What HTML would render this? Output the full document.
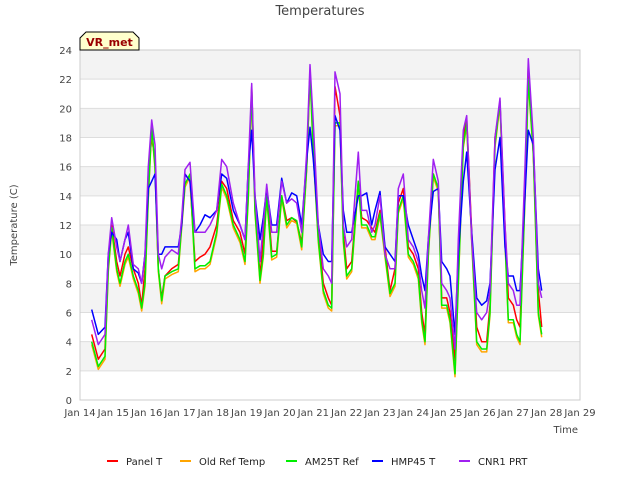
<!DOCTYPE html>
<html><head><meta charset="utf-8"><style>
body{margin:0;background:#fff;font-family:"Liberation Sans","DejaVu Sans",sans-serif}
</style></head><body>
<svg id="chart" width="640" height="480" xmlns="http://www.w3.org/2000/svg" font-family="DejaVu Sans, Liberation Sans, sans-serif">
<rect width="640" height="480" fill="#fff"/>
<g id="bands"></g>
<g id="grid"></g>
<g id="series"></g>
<g id="axes"></g>
<text x="320" y="15" text-anchor="middle" font-size="13" fill="#444">Temperatures</text>
<text transform="translate(17,225) rotate(-90)" text-anchor="middle" font-size="10" fill="#444">Temperature (C)</text>
<text x="578" y="433" text-anchor="end" font-size="10" fill="#444">Time</text>
<g>
<path d="M80,50 L80,38 L86,32 L133,32 L139,38 L139,50 Z" fill="#ffffcc" stroke="#000" stroke-width="1"/>
<text x="109.5" y="46" text-anchor="middle" font-size="11" font-weight="bold" fill="#990000">VR_met</text>
</g>
<g id="legend"></g>
</svg>
<script>
const t=[0.35,0.55,0.75,0.85,0.95,1.1,1.2,1.35,1.45,1.6,1.75,1.85,1.95,2.05,2.15,2.25,2.35,2.45,2.55,2.75,2.95,3.05,3.15,3.3,3.45,3.6,3.75,3.9,4.1,4.25,4.4,4.6,4.8,4.95,5.05,5.15,5.25,5.4,5.5,5.6,5.75,5.9,6.05,6.2,6.35,6.5,6.65,6.8,6.9,7.0,7.15,7.3,7.45,7.55,7.65,7.8,7.9,8.0,8.15,8.35,8.45,8.6,8.75,8.85,9.0,9.15,9.3,9.45,9.55,9.7,9.85,10.0,10.15,10.25,10.35,10.45,10.6,10.75,10.85,11.0,11.1,11.25,11.35,11.5,11.6,11.75,11.9,12.05,12.2,12.3,12.45,12.6,12.75,12.85,13.0,13.1,13.2,13.35,13.45,13.6,13.75,13.85];
const green=[4.0,2.3,3.0,9,11.8,9,8,9.5,10,8.5,7.5,6.3,8,14,18.8,16,9,6.8,8.5,8.8,9,12,14.8,15.5,9,9.2,9.2,9.5,11.5,14.8,14,12,11,9.5,14,21.3,13,8.2,10,14,9.8,10,14,12,12.5,12.3,10.5,16,22.5,17,11,7.5,6.5,6.3,19,19,11,8.5,9,15,12,12,11.2,11.2,12.8,10,7.3,8,13,14,10,9.5,8.5,5.5,4,10,15.5,14.5,6.5,6.5,5.5,1.8,8,17.5,19,11,4,3.5,3.5,6,17.5,20.5,11,5.5,5.5,4.5,4,14,22,17,6,4.5];
const orange=[3.8,2.1,2.8,8.8,11.6,8.8,7.8,9.3,9.8,8.3,7.3,6.1,7.8,13.8,18.6,15.8,8.8,6.6,8.3,8.6,8.8,11.8,14.6,15.3,8.8,9,9,9.3,11.3,14.6,13.8,11.8,10.8,9.3,13.8,21.1,12.8,8,9.8,13.8,9.6,9.8,13.8,11.8,12.3,12.1,10.3,15.8,22.3,16.8,10.8,7.3,6.3,6.1,18.8,18.8,10.8,8.3,8.8,14.8,11.8,11.8,11,11,12.6,9.8,7.1,7.8,12.8,13.8,9.8,9.3,8.3,5.3,3.8,9.8,15.3,14.3,6.3,6.3,5.3,1.6,7.8,17.3,18.8,10.8,3.8,3.3,3.3,5.8,17.3,20.3,10.8,5.3,5.3,4.3,3.8,13.8,21.8,16.8,5.8,4.3];
const red=[4.5,2.8,3.5,9.5,12,9.5,8.5,10,10.5,9,8,6.5,9,15.5,18,16.5,9,7,8.5,9,9.3,12,15.5,15,9.5,9.8,10,10.5,12,15,14.5,12.3,11.5,10,14.5,21.5,13.5,8.5,11,14.5,10.2,10.2,14,12.3,12.5,12.2,10.8,16,22.5,18,11.5,8,7,6.5,21.5,19.5,11.5,9,9.5,15,12.5,12.3,11.8,11.5,13,10.5,7.5,9,13.5,14.5,10.5,10,9,6,4.5,10.5,15.5,14.5,7,7,6,2.7,9,18,19.3,11.5,5,4,4,6.5,18,20.3,12,7,6.5,5.5,5,15,23,17,7.5,5];
const blue=[6.2,4.5,5,10,11.5,11,9.5,11,11.5,9,8.7,8,10,14.5,15,15.5,10,10,10.5,10.5,10.5,12,15.5,15,11.5,12,12.7,12.5,13,15.5,15.2,13,12,11,16,18.5,14,11,12.5,14.5,12,12,15.2,13.5,14.2,14,12,16.5,18.7,16.5,12,10,9.5,9.5,19.5,18.5,13,11.5,11.5,14,14,14.2,12,13,14.3,10.5,10,9.5,14,14,12,11,10,8.5,7.5,11,14.3,14.5,9.5,9,8.5,4.5,10,15,17,11.5,7,6.5,6.8,8,15.8,18,10.5,8.5,8.5,7.5,7.5,14,18.5,17.5,9,7.5];
const purple=[5.5,3.8,4.5,10,12.5,10.5,9.5,11,12,9.3,9,8,10,16,19.2,17.5,10,9,9.8,10.3,10,12.5,15.8,16.3,11.5,11.5,11.5,12,13,16.5,16,13.5,12,11,16,21.7,14,9.5,12,14.8,11.5,11.5,15,13.5,13.8,13.5,11.5,17,23,19,12,9,8.5,8,22.5,21,12,10.5,11,17,13,13,11.5,12,14,10,9,9,14.5,15.5,11,10.5,9.5,7.5,6.3,11,16.5,15,8,7.5,7,3.5,11,18.5,19.5,11,6,5.5,6,7.5,18,20.7,12,8,7.5,6.5,6.5,16,23.4,18,8,7];
const yTicks=[0,2,4,6,8,10,12,14,16,18,20,22,24];
const xTickLabels=["Jan 14","Jan 15","Jan 16","Jan 17","Jan 18","Jan 19","Jan 20","Jan 21","Jan 22","Jan 23","Jan 24","Jan 25","Jan 26","Jan 27","Jan 28","Jan 29"];
const seriesNames=["Panel T","Old Ref Temp","AM25T Ref","HMP45 T","CNR1 PRT"];
const seriesColors=["#ff0000","#ffa500","#00ee00","#0000ff","#a020f0"];
const seriesData=[red,orange,green,blue,purple];

const X0=80,X1=580,Y0=400,Y1=50;
const xs=d=>X0+d*(X1-X0)/15;
const ys=v=>Y0-v*(Y0-Y1)/24;
const NS="http://www.w3.org/2000/svg";
function mk(tag,parent){const e=document.createElementNS(NS,tag);parent.appendChild(e);return e;}
const bands=document.getElementById('bands'),grid=document.getElementById('grid'),axes=document.getElementById('axes'),ser=document.getElementById('series'),leg=document.getElementById('legend');
const bg=mk('rect',bands);bg.setAttribute('x',X0);bg.setAttribute('y',Y1);bg.setAttribute('width',X1-X0);bg.setAttribute('height',Y0-Y1);bg.setAttribute('fill','#fff');
for(let i=0;i<yTicks.length-1;i++){
 if(i%2===1){const r=mk('rect',bands);
 
 
 r.setAttribute('x',X0);r.setAttribute('y',ys(yTicks[i+1]));r.setAttribute('width',X1-X0);r.setAttribute('height',ys(yTicks[i])-ys(yTicks[i+1]));r.setAttribute('fill','#f3f3f3');}
}
yTicks.forEach(v=>{
 const l=mk('line',grid);
 
 
 l.setAttribute('x1',X0);l.setAttribute('x2',X1);l.setAttribute('y1',ys(v));l.setAttribute('y2',ys(v));l.setAttribute('stroke','#dddddd');l.setAttribute('stroke-width','1');
 const tx=mk('text',axes);
 
 
 tx.setAttribute('x',X0-8);tx.setAttribute('y',ys(v)+4);tx.setAttribute('text-anchor','end');tx.setAttribute('font-size','10');tx.setAttribute('fill','#444');tx.textContent=v;
});
xTickLabels.forEach((s,i)=>{
 const tx=mk('text',axes);
 
 
 tx.setAttribute('x',xs(i));tx.setAttribute('y',Y0+16);tx.setAttribute('text-anchor','middle');tx.setAttribute('font-size','10');tx.setAttribute('fill','#444');tx.textContent=s;
});
const fr=mk('rect',axes);fr.setAttribute('x',X0);fr.setAttribute('y',Y1);fr.setAttribute('width',X1-X0);fr.setAttribute('height',Y0-Y1);fr.setAttribute('fill','none');fr.setAttribute('stroke','#cccccc');
seriesData.forEach((arr,k)=>{
 const p=mk('polyline',ser);
 
 
 p.setAttribute('points',arr.map((v,i)=>xs(t[i]).toFixed(1)+','+ys(v).toFixed(1)).join(' '));
 p.setAttribute('fill','none');p.setAttribute('stroke',seriesColors[k]);p.setAttribute('stroke-width','1.5');p.setAttribute('stroke-linejoin','round');
});
const legX=[107,180,286,372,459];
seriesNames.forEach((n,k)=>{
 const g=mk('g',leg);
 
 
 const l=mk('line',g);l.setAttribute('x1',legX[k]);l.setAttribute('x2',legX[k]+11);l.setAttribute('y1',461);l.setAttribute('y2',461);l.setAttribute('stroke',seriesColors[k]);l.setAttribute('stroke-width','2');
 const tx=mk('text',g);tx.setAttribute('x',legX[k]+19);tx.setAttribute('y',465);tx.setAttribute('font-size','10');tx.setAttribute('fill','#222');tx.textContent=n;
});
</script>
</body></html>
